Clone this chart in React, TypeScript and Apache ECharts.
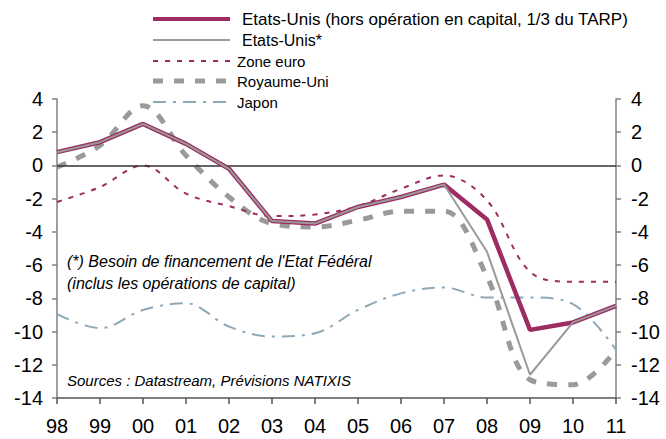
import React, { useEffect, useRef } from "react";
import * as echarts from "echarts";

const years = ["98", "99", "00", "01", "02", "03", "04", "05", "06", "07", "08", "09", "10", "11"];
const usHors = [0.8, 1.4, 2.5, 1.3, -0.2, -3.35, -3.5, -2.5, -1.9, -1.15, -3.25, -9.9, -9.45, -8.45];
const usStar = [0.8, 1.4, 2.5, 1.3, -0.2, -3.35, -3.5, -2.5, -1.9, -1.15, -5.2, -12.6, -9.45, -8.45];
const zoneEuro = [-2.2, -1.3, 0.0, -1.7, -2.45, -3.05, -2.95, -2.45, -1.4, -0.6, -2.1, -6.4, -7.0, -7.0];
const royaumeUni = [-0.1, 1.2, 3.6, 0.6, -1.9, -3.5, -3.7, -3.3, -2.75, -2.75, -6.7, -12.9, -13.2, -11.1];
const japon = [-8.95, -9.8, -8.7, -8.3, -9.7, -10.3, -10.1, -8.7, -7.7, -7.35, -7.95, -7.95, -8.35, -11.1];

const seriesNames = [
  "Etats-Unis (hors opération en capital, 1/3 du TARP)",
  "Etats-Unis*",
  "Zone euro",
  "Royaume-Uni",
  "Japon",
];
const titleText = "Solde public (en % du PIB)";
const note1 = "(*) Besoin de financement de l'Etat Fédéral";
const note2 = "(inclus les opérations de capital)";
const sources = "Sources : Datastream, Prévisions NATIXIS";

const MAGENTA = "#9c2c62";
const GRAY = "#9a9a9a";
const JAPON = "#8ea8b6";
const FONT = "Liberation Sans, Arial, sans-serif";

export default function App() {
  const ref = useRef<HTMLDivElement>(null);
  useEffect(() => {
    if (!ref.current) return;
    const chart = echarts.init(ref.current, undefined, { renderer: "svg" });
    const yAxisBase = {
      type: "value" as const,
      min: -14,
      max: 4,
      interval: 2,
      splitLine: { show: false },
      axisLine: { show: true, lineStyle: { color: "#808080", width: 1.5 } },
      axisTick: { show: true, length: 5, lineStyle: { color: "#808080", width: 1.5 } },
      axisLabel: { color: "#000", fontSize: 20, fontFamily: FONT },
    };
    const legendRows = [
      { y: 19, style: { stroke: MAGENTA, lineWidth: 4 }, tx: 242, fs: 17 },
      { y: 40, style: { stroke: GRAY, lineWidth: 2 }, tx: 242, fs: 16 },
      { y: 61, style: { stroke: MAGENTA, lineWidth: 2, lineDash: [5, 7] }, tx: 237, fs: 15 },
      { y: 81, style: { stroke: GRAY, lineWidth: 5, lineDash: [10, 11] }, tx: 237, fs: 15 },
      { y: 102, style: { stroke: JAPON, lineWidth: 2, lineDash: [13, 7, 3, 7] }, tx: 237, fs: 15 },
    ];
    const graphics: any[] = [];
    legendRows.forEach((r, i) => {
      graphics.push({
        type: "line",
        shape: { x1: 153, y1: r.y, x2: 230, y2: r.y },
        style: r.style,
        silent: true,
      });
      graphics.push({
        type: "text",
        x: r.tx,
        y: r.y,
        style: {
          text: seriesNames[i],
          fill: "#000",
          font: `${r.fs}px ${FONT}`,
          textVerticalAlign: "middle",
        },
        silent: true,
      });
    });
    graphics.push({
      type: "text",
      x: 205,
      y: -11,
      style: {
        text: titleText,
        fill: MAGENTA,
        font: `bold 20px ${FONT}`,
        textVerticalAlign: "middle",
      },
      silent: true,
    });
    [
      { t: note1, y: 261, fs: 16 },
      { t: note2, y: 283, fs: 16 },
      { t: sources, y: 380, fs: 15 },
    ].forEach((n) =>
      graphics.push({
        type: "text",
        x: 67,
        y: n.y,
        style: {
          text: n.t,
          fill: "#000",
          font: `italic ${n.fs}px ${FONT}`,
          textVerticalAlign: "middle",
        },
        silent: true,
      })
    );

    chart.setOption({
      animation: false,
      backgroundColor: "#fff",
      grid: { left: 57, right: 50, top: 99, bottom: 41, containLabel: false },
      xAxis: {
        type: "category",
        data: years,
        boundaryGap: false,
        axisLine: { onZero: false, lineStyle: { color: "#555", width: 1.5 } },
        axisTick: { show: true, length: 6, alignWithLabel: true, lineStyle: { color: "#555", width: 1.5 } },
        axisLabel: { color: "#000", fontSize: 20, fontFamily: FONT, margin: 18 },
        splitLine: { show: false },
      },
      yAxis: [
        { ...yAxisBase, position: "left", axisLabel: { ...yAxisBase.axisLabel, margin: 14 } },
        { ...yAxisBase, position: "right", axisLabel: { ...yAxisBase.axisLabel, margin: 15 } },
      ],
      graphic: graphics,
      series: [
        {
          name: seriesNames[4],
          type: "line",
          data: japon,
          symbol: "none",
          smooth: 0.35,
          lineStyle: { color: JAPON, width: 2, type: [13, 7, 3, 7] },
          z: 2,
          markLine: {
            silent: true,
            symbol: "none",
            label: { show: false },
            lineStyle: { color: "#333", width: 1.5, type: "solid" },
            data: [{ yAxis: 0 }],
          },
        },
        {
          name: seriesNames[3],
          type: "line",
          data: royaumeUni,
          symbol: "none",
          smooth: 0.35,
          lineStyle: { color: GRAY, width: 5, type: [10, 11] },
          z: 3,
        },
        {
          name: seriesNames[2],
          type: "line",
          data: zoneEuro,
          symbol: "none",
          smooth: 0.35,
          lineStyle: { color: MAGENTA, width: 2, type: [5, 7] },
          z: 4,
        },
        {
          name: seriesNames[0],
          type: "line",
          data: usHors,
          symbol: "none",
          lineStyle: { color: MAGENTA, width: 4.5 },
          z: 5,
        },
        {
          name: seriesNames[1],
          type: "line",
          data: usStar,
          symbol: "none",
          lineStyle: { color: GRAY, width: 2 },
          z: 6,
        },
      ],
    });
    return () => chart.dispose();
  }, []);
  return (
    <div
      ref={ref}
      style={{ position: "fixed", left: 0, top: 0, width: 666, height: 439 }}
    />
  );
}
